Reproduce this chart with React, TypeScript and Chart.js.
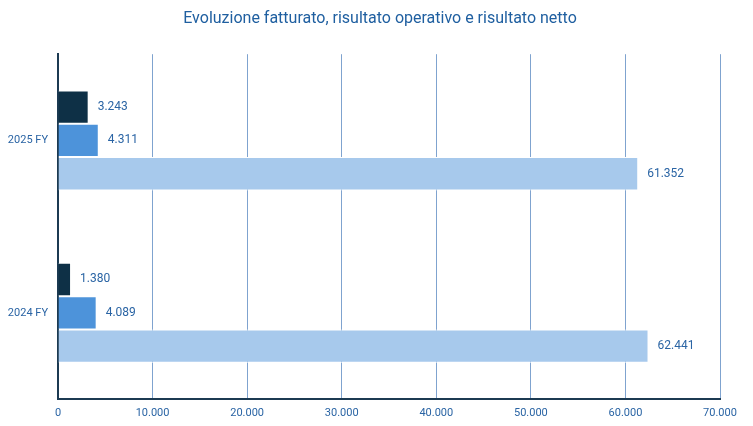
import React, { useEffect, useRef } from "react";
import { Chart, registerables } from "chart.js";

Chart.register(...registerables);

const categories = ["2025 FY", "2024 FY"];
const risultatoNetto = [3243, 1380];
const risultatoOperativo = [4311, 4089];
const fatturato = [61352, 62441];
const xTicks = [0, 10000, 20000, 30000, 40000, 50000, 60000, 70000];

const fmt = (v: number) => String(Math.round(v)).replace(/\B(?=(\d{3})+(?!\d))/g, ".");

const FONT = "Roboto, 'Liberation Sans', sans-serif";
const TEXT = "#2A64A4";

const labelPlugin = {
  id: "barLabels",
  afterDatasetsDraw(chart: any) {
    const ctx = chart.ctx;
    ctx.save();
    ctx.font = `12px ${FONT}`;
    ctx.fillStyle = TEXT;
    ctx.textAlign = "left";
    ctx.textBaseline = "middle";
    chart.data.datasets.forEach((ds: any, i: number) => {
      const meta = chart.getDatasetMeta(i);
      meta.data.forEach((el: any, j: number) => {
        ctx.fillText(fmt(ds.data[j]), el.x + 9, el.y);
      });
    });
    ctx.restore();
  },
};

export default function App() {
  const ref = useRef<HTMLCanvasElement>(null);
  useEffect(() => {
    const chart = new Chart(ref.current!, {
      type: "bar",
      data: {
        labels: categories,
        datasets: [
          { label: "Risultato netto", data: risultatoNetto, backgroundColor: "#0E3046", borderColor: "#ffffff", borderWidth: 1 },
          { label: "Risultato operativo", data: risultatoOperativo, backgroundColor: "#4D93DA", borderColor: "#ffffff", borderWidth: 1 },
          { label: "Fatturato", data: fatturato, backgroundColor: "#A7C9EC", borderColor: "#ffffff", borderWidth: 1 },
        ],
      },
      options: {
        indexAxis: "y",
        animation: false,
        responsive: false,
        maintainAspectRatio: false,
        layout: { padding: { left: 7, right: 0, top: 4, bottom: 0 } },
        datasets: { bar: { categoryPercentage: 0.58, barPercentage: 1 } },
        plugins: {
          legend: { display: false },
          tooltip: { enabled: false },
          title: {
            display: true,
            text: "Evoluzione fatturato, risultato operativo e risultato netto",
            color: "#1F5FA0",
            font: { family: FONT, size: 16, weight: "normal" },
            padding: { top: 5, bottom: 26 },
          },
        },
        scales: {
          x: {
            min: 0,
            max: 70000,
            afterBuildTicks: (axis: any) => {
              axis.ticks = xTicks.map((v) => ({ value: v }));
            },
            afterFit: (axis: any) => {
              axis.height = 27;
              axis.paddingRight = 33;
            },
            ticks: {
              color: TEXT,
              font: { family: FONT, size: 11 },
              callback: (v: any) => fmt(Number(v)),
              padding: 8,
            },
            grid: { color: "#7FA3CF", lineWidth: 1, drawTicks: false },
            border: { display: true, color: "#1C3A52", width: 2 },
          },
          y: {
            afterFit: (axis: any) => {
              axis.width = 51;
            },
            ticks: {
              color: TEXT,
              font: { family: FONT, size: 11 },
              padding: 10,
            },
            grid: { display: false, drawTicks: false },
            border: { display: true, color: "#1C3A52", width: 2 },
          },
        },
      },
      plugins: [labelPlugin],
    });
    return () => chart.destroy();
  }, []);
  return (
    <div style={{ position: "fixed", left: 0, top: 0, width: 753, height: 426, background: "#fff" }}>
      <canvas ref={ref} width={753} height={426} style={{ width: 753, height: 426 }} />
    </div>
  );
}
